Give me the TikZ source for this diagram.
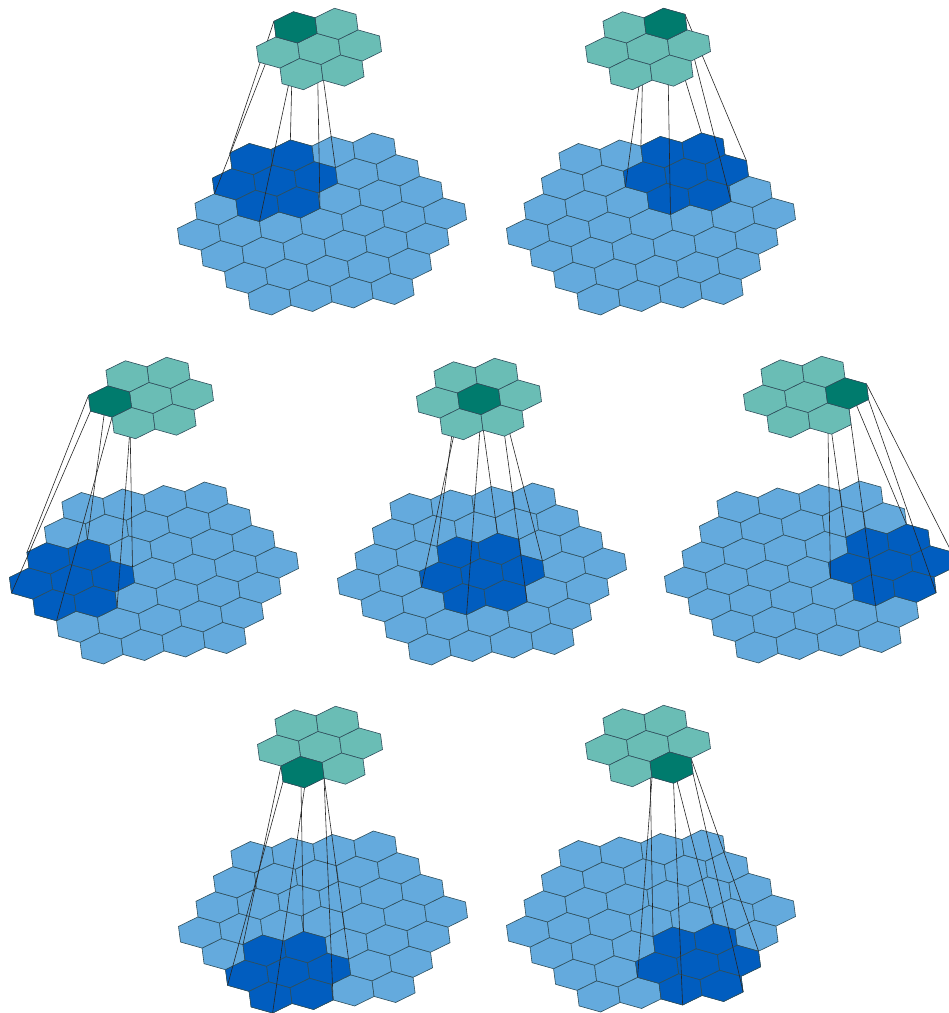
\documentclass[tikz,border=0pt]{standalone}
\definecolor{cellblue}{HTML}{64AADD}
\definecolor{patchblue}{HTML}{015DBF}
\definecolor{cellteal}{HTML}{6ABDB5}
\definecolor{patchteal}{HTML}{007B6D}
\definecolor{hexedge}{HTML}{2F4F5C}
\usepackage{tikz}
\tikzset{
  hexline/.style={draw=hexedge, line width=0.6pt, line join=round},
  link/.style={draw=black!85, line width=0.6pt}
}
\newcommand{\hexcell}[4]{%
  \filldraw[hexline, fill=#1] ({#2+0.5},{#3+0.2887},#4) -- ({#2},{#3+0.5774},#4)
    -- ({#2-0.5},{#3+0.2887},#4) -- ({#2-0.5},{#3-0.2887},#4)
    -- ({#2},{#3-0.5774},#4) -- ({#2+0.5},{#3-0.2887},#4) -- cycle;}

\begin{document}
\begin{tikzpicture}[x={(41pt,3.5pt)}, y={(-3.5pt,27pt)}, z={(-3pt,175pt)}]
  \useasboundingbox (0,0) rectangle (949pt,1013pt);
  \clip (0,0) rectangle (949pt,1013pt);
  \foreach \ox/\oy/\dq/\dr in {322/789/-1/1, 651/789/0/1, 154/440/-1/0, 482/439/0/0,
                               809/441/1/0, 323/91/0/-1, 651/92/1/-1} {
    \begin{scope}[shift={(\ox pt,\oy pt)}]
      \foreach \row in {-3,...,3} {
        \pgfmathtruncatemacro\qa{max(-3,-3-\row)}
        \pgfmathtruncatemacro\qb{min(3,3-\row)}
        \foreach \col in {\qa,...,\qb} {
          \pgfmathsetmacro\cx{\col+0.5*\row}
          \pgfmathsetmacro\cy{0.866*\row}
          \hexcell{cellblue}{\cx}{\cy}{0}
        }
      }
      \pgfmathsetmacro\sx{\dq+0.5*\dr}
      \pgfmathsetmacro\sy{0.866*\dr}
      \foreach \a/\b in {0/0,1/0,-1/0,0/1,0/-1,1/-1,-1/1} {
        \pgfmathsetmacro\cx{2*\sx+\a+0.5*\b}
        \pgfmathsetmacro\cy{2*\sy+0.866*\b}
        \hexcell{patchblue}{\cx}{\cy}{0}
      }
      \foreach \k in {0,...,5} {
        \pgfmathsetmacro\ang{90-60*\k}
        \coordinate (s\k) at ({\sx+0.5774*cos(\ang)},{\sy+0.5774*sin(\ang)},1);
        \coordinate (b\k) at ({2*\sx+1.5275*cos(\ang-19.1)},{2*\sy+1.5275*sin(\ang-19.1)},0);
        \draw[link] (s\k) -- (b\k);
      }
      \foreach \a/\b in {0/0,1/0,-1/0,0/1,0/-1,1/-1,-1/1} {
        \pgfmathsetmacro\cx{\a+0.5*\b}
        \pgfmathsetmacro\cy{0.866*\b}
        \hexcell{cellteal}{\cx}{\cy}{1}
      }
      \hexcell{patchteal}{\sx}{\sy}{1}
    \end{scope}
  }
\end{tikzpicture}
\end{document}
